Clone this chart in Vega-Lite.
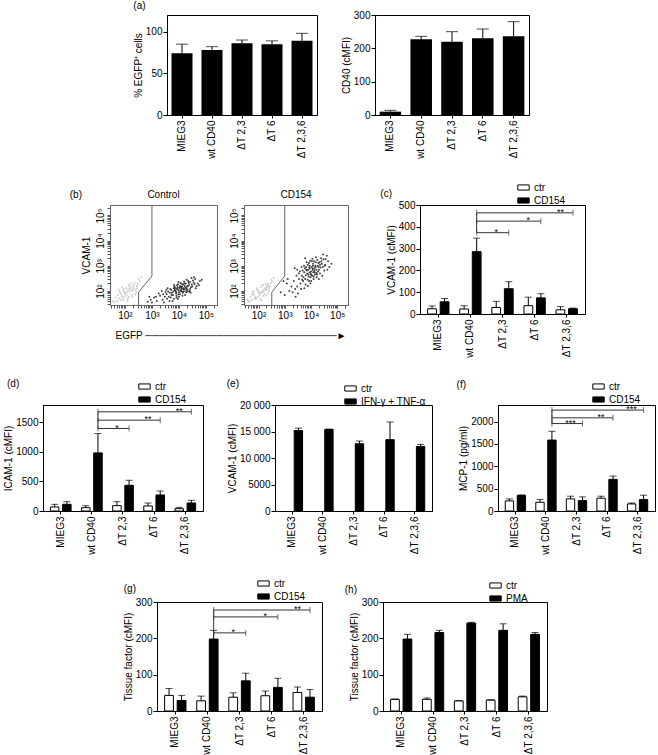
{
"$schema":"https://vega.github.io/schema/vega-lite/v6.json",
"padding":{"left":0,"top":0,"right":0,"bottom":0},
"config":{
 "font":"Liberation Sans",
 "view":{"stroke":"black","strokeWidth":1},
 "axis":{"labelFontSize":10,"titleFontSize":10,"titleFontWeight":"normal","labelColor":"black","titleColor":"black","domainColor":"black","tickColor":"black","tickSize":4,"labelPadding":2,"titlePadding":4,"grid":false,"labelOverlap":false},
 "axisX":{"tickSize":3},
 "axisY":{"labelPadding":1,"titlePadding":2},
 "title":{"fontSize":10,"fontWeight":"normal","color":"black"},
 "legend":{"labelFontSize":10,"labelColor":"black","symbolType":"M-1,-0.45H1V0.45H-1Z","symbolSize":130,"symbolStrokeColor":"black","symbolStrokeWidth":1,"padding":0,"rowPadding":1,"labelOffset":4}
},
"datasets":{
 "gate":[{"i":1,"x":1000,"y":257000},{"i":2,"x":1000,"y":398},{"i":3,"x":320,"y":89},{"i":4,"x":320,"y":28}],
 "flow":[
{"s":"Control","g":"out","x":100,"y":80},{"s":"Control","g":"out","x":150,"y":120},{"s":"Control","g":"out","x":80,"y":60},{"s":"Control","g":"out","x":200,"y":150},{"s":"Control","g":"out","x":60,"y":50},{"s":"Control","g":"out","x":120,"y":90},{"s":"Control","g":"out","x":250,"y":110},{"s":"Control","g":"out","x":90,"y":100},{"s":"Control","g":"out","x":180,"y":70},{"s":"Control","g":"out","x":70,"y":80},
{"s":"Control","g":"out","x":300,"y":200},{"s":"Control","g":"out","x":110,"y":130},{"s":"Control","g":"out","x":50,"y":40},{"s":"Control","g":"out","x":140,"y":60},{"s":"Control","g":"out","x":220,"y":180},{"s":"Control","g":"out","x":85,"y":45},{"s":"Control","g":"out","x":160,"y":140},{"s":"Control","g":"out","x":40,"y":35},{"s":"Control","g":"out","x":130,"y":110},{"s":"Control","g":"out","x":260,"y":90},
{"s":"Control","g":"out","x":75,"y":65},{"s":"Control","g":"out","x":350,"y":250},{"s":"Control","g":"out","x":95,"y":55},{"s":"Control","g":"out","x":190,"y":100},{"s":"Control","g":"out","x":65,"y":90},{"s":"Control","g":"out","x":280,"y":160},{"s":"Control","g":"out","x":105,"y":75},{"s":"Control","g":"out","x":45,"y":55},{"s":"Control","g":"out","x":170,"y":200},{"s":"Control","g":"out","x":125,"y":50},
{"s":"Control","g":"out","x":210,"y":130},{"s":"Control","g":"out","x":55,"y":70},{"s":"Control","g":"out","x":320,"y":300},{"s":"Control","g":"out","x":135,"y":160},{"s":"Control","g":"out","x":88,"y":120},{"s":"Control","g":"out","x":240,"y":75},{"s":"Control","g":"out","x":150,"y":95},{"s":"Control","g":"out","x":35,"y":40},{"s":"Control","g":"out","x":115,"y":65},{"s":"Control","g":"out","x":400,"y":350},
{"s":"Control","g":"out","x":180,"y":115},{"s":"Control","g":"out","x":70,"y":45},{"s":"Control","g":"out","x":230,"y":220},{"s":"Control","g":"out","x":98,"y":85},{"s":"Control","g":"out","x":145,"y":180},{"s":"Control","g":"out","x":60,"y":110},{"s":"Control","g":"out","x":270,"y":130},{"s":"Control","g":"out","x":125,"y":40},{"s":"Control","g":"out","x":190,"y":60},{"s":"Control","g":"out","x":80,"y":140},
{"s":"Control","g":"in","x":12000,"y":110},{"s":"Control","g":"in","x":8000,"y":90},{"s":"Control","g":"in","x":15000,"y":130},{"s":"Control","g":"in","x":9500,"y":75},{"s":"Control","g":"in","x":20000,"y":150},{"s":"Control","g":"in","x":6000,"y":70},{"s":"Control","g":"in","x":11000,"y":160},{"s":"Control","g":"in","x":7000,"y":120},{"s":"Control","g":"in","x":25000,"y":100},{"s":"Control","g":"in","x":5000,"y":55},
{"s":"Control","g":"in","x":14000,"y":85},{"s":"Control","g":"in","x":18000,"y":200},{"s":"Control","g":"in","x":3000,"y":60},{"s":"Control","g":"in","x":9000,"y":140},{"s":"Control","g":"in","x":30000,"y":180},{"s":"Control","g":"in","x":4000,"y":95},{"s":"Control","g":"in","x":10000,"y":60},{"s":"Control","g":"in","x":16000,"y":115},{"s":"Control","g":"in","x":22000,"y":250},{"s":"Control","g":"in","x":2500,"y":45},
{"s":"Control","g":"in","x":13000,"y":95},{"s":"Control","g":"in","x":8500,"y":170},{"s":"Control","g":"in","x":35000,"y":220},{"s":"Control","g":"in","x":6500,"y":50},{"s":"Control","g":"in","x":19000,"y":130},{"s":"Control","g":"in","x":1500,"y":40},{"s":"Control","g":"in","x":11500,"y":210},{"s":"Control","g":"in","x":5500,"y":85},{"s":"Control","g":"in","x":28000,"y":140},{"s":"Control","g":"in","x":7500,"y":100},
{"s":"Control","g":"in","x":40000,"y":300},{"s":"Control","g":"in","x":3500,"y":75},{"s":"Control","g":"in","x":17000,"y":70},{"s":"Control","g":"in","x":9800,"y":105},{"s":"Control","g":"in","x":24000,"y":175},{"s":"Control","g":"in","x":4500,"y":40},{"s":"Control","g":"in","x":12500,"y":130},{"s":"Control","g":"in","x":2000,"y":65},{"s":"Control","g":"in","x":45000,"y":160},{"s":"Control","g":"in","x":8200,"y":55},
{"s":"Control","g":"in","x":15500,"y":240},{"s":"Control","g":"in","x":6800,"y":150},{"s":"Control","g":"in","x":21000,"y":95},{"s":"Control","g":"in","x":1200,"y":55},{"s":"Control","g":"in","x":10500,"y":125},{"s":"Control","g":"in","x":33000,"y":260},{"s":"Control","g":"in","x":5200,"y":110},{"s":"Control","g":"in","x":14500,"y":180},{"s":"Control","g":"in","x":2800,"y":35},{"s":"Control","g":"in","x":26000,"y":120},
{"s":"Control","g":"in","x":7800,"y":80},{"s":"Control","g":"in","x":60000,"y":250},{"s":"Control","g":"in","x":3800,"y":130},{"s":"Control","g":"in","x":18500,"y":90},{"s":"Control","g":"in","x":11000,"y":75},{"s":"Control","g":"in","x":900,"y":45},{"s":"Control","g":"in","x":16500,"y":160},{"s":"Control","g":"in","x":6200,"y":95},{"s":"Control","g":"in","x":38000,"y":190},{"s":"Control","g":"in","x":9300,"y":185},
{"s":"Control","g":"in","x":4200,"y":60},{"s":"Control","g":"in","x":23000,"y":210},{"s":"Control","g":"in","x":13500,"y":65},{"s":"Control","g":"in","x":1800,"y":80},{"s":"Control","g":"in","x":29000,"y":330},{"s":"Control","g":"in","x":7200,"y":135},{"s":"Control","g":"in","x":50000,"y":200},{"s":"Control","g":"in","x":3200,"y":90},{"s":"Control","g":"in","x":12200,"y":145},{"s":"Control","g":"in","x":20500,"y":115},
{"s":"Control","g":"in","x":5800,"y":40},{"s":"Control","g":"in","x":8800,"y":115},{"s":"Control","g":"in","x":27000,"y":85},{"s":"Control","g":"in","x":2300,"y":100},{"s":"Control","g":"in","x":15000,"y":95},{"s":"Control","g":"in","x":42000,"y":130},{"s":"Control","g":"in","x":6600,"y":175},{"s":"Control","g":"in","x":10200,"y":90},{"s":"Control","g":"in","x":700,"y":38},{"s":"Control","g":"in","x":19500,"y":280},
{"s":"Control","g":"in","x":4800,"y":120},{"s":"Control","g":"in","x":31000,"y":150},{"s":"Control","g":"in","x":8100,"y":65},{"s":"Control","g":"in","x":14200,"y":120},{"s":"Control","g":"in","x":2600,"y":75},{"s":"Control","g":"in","x":36000,"y":350},{"s":"Control","g":"in","x":11800,"y":100},{"s":"Control","g":"in","x":5300,"y":70},{"s":"Control","g":"in","x":17500,"y":135},{"s":"Control","g":"in","x":9600,"y":230},
{"s":"Control","g":"in","x":1400,"y":60},{"s":"Control","g":"in","x":24500,"y":95},{"s":"Control","g":"in","x":7100,"y":105},{"s":"Control","g":"in","x":55000,"y":170},{"s":"Control","g":"in","x":3600,"y":50},{"s":"Control","g":"in","x":12800,"y":190},{"s":"Control","g":"in","x":21500,"y":160},{"s":"Control","g":"in","x":4600,"y":85},{"s":"Control","g":"in","x":9100,"y":48},{"s":"Control","g":"in","x":16000,"y":200},
{"s":"Control","g":"in","x":800,"y":60},{"s":"Control","g":"in","x":70000,"y":280},{"s":"Control","g":"in","x":6400,"y":130},{"s":"Control","g":"in","x":13200,"y":150},{"s":"Control","g":"in","x":1000,"y":35},{"s":"Control","g":"in","x":25500,"y":230},{"s":"Control","g":"in","x":10800,"y":140},{"s":"Control","g":"in","x":3400,"y":110},{"s":"Control","g":"in","x":18800,"y":105},{"s":"Control","g":"in","x":8400,"y":125},
{"s":"CD154","g":"out","x":110,"y":90},{"s":"CD154","g":"out","x":160,"y":110},{"s":"CD154","g":"out","x":75,"y":55},{"s":"CD154","g":"out","x":210,"y":160},{"s":"CD154","g":"out","x":55,"y":45},{"s":"CD154","g":"out","x":130,"y":85},{"s":"CD154","g":"out","x":240,"y":120},{"s":"CD154","g":"out","x":95,"y":105},{"s":"CD154","g":"out","x":170,"y":75},{"s":"CD154","g":"out","x":65,"y":70},
{"s":"CD154","g":"out","x":290,"y":210},{"s":"CD154","g":"out","x":120,"y":140},{"s":"CD154","g":"out","x":48,"y":38},{"s":"CD154","g":"out","x":150,"y":65},{"s":"CD154","g":"out","x":230,"y":170},{"s":"CD154","g":"out","x":82,"y":50},{"s":"CD154","g":"out","x":175,"y":130},{"s":"CD154","g":"out","x":42,"y":40},{"s":"CD154","g":"out","x":135,"y":100},{"s":"CD154","g":"out","x":250,"y":95},
{"s":"CD154","g":"out","x":78,"y":60},{"s":"CD154","g":"out","x":330,"y":240},{"s":"CD154","g":"out","x":100,"y":60},{"s":"CD154","g":"out","x":200,"y":110},{"s":"CD154","g":"out","x":62,"y":85},{"s":"CD154","g":"out","x":270,"y":150},{"s":"CD154","g":"out","x":108,"y":80},{"s":"CD154","g":"out","x":50,"y":60},{"s":"CD154","g":"out","x":185,"y":190},{"s":"CD154","g":"out","x":118,"y":48},
{"s":"CD154","g":"out","x":205,"y":140},{"s":"CD154","g":"out","x":58,"y":75},{"s":"CD154","g":"out","x":310,"y":280},{"s":"CD154","g":"out","x":140,"y":170},{"s":"CD154","g":"out","x":90,"y":115},{"s":"CD154","g":"out","x":235,"y":80},{"s":"CD154","g":"out","x":155,"y":90},{"s":"CD154","g":"out","x":38,"y":45},{"s":"CD154","g":"out","x":112,"y":70},{"s":"CD154","g":"out","x":380,"y":330},
{"s":"CD154","g":"out","x":190,"y":120},{"s":"CD154","g":"out","x":72,"y":50},{"s":"CD154","g":"out","x":220,"y":200},{"s":"CD154","g":"out","x":102,"y":88},{"s":"CD154","g":"out","x":148,"y":175},{"s":"CD154","g":"out","x":64,"y":100},{"s":"CD154","g":"out","x":260,"y":140},{"s":"CD154","g":"out","x":128,"y":42},{"s":"CD154","g":"out","x":195,"y":65},{"s":"CD154","g":"out","x":85,"y":130},
{"s":"CD154","g":"in","x":10000,"y":600},{"s":"CD154","g":"in","x":8000,"y":450},{"s":"CD154","g":"in","x":15000,"y":900},{"s":"CD154","g":"in","x":6000,"y":300},{"s":"CD154","g":"in","x":12000,"y":1200},{"s":"CD154","g":"in","x":20000,"y":700},{"s":"CD154","g":"in","x":5000,"y":250},{"s":"CD154","g":"in","x":9000,"y":800},{"s":"CD154","g":"in","x":25000,"y":1500},{"s":"CD154","g":"in","x":4000,"y":200},
{"s":"CD154","g":"in","x":11000,"y":400},{"s":"CD154","g":"in","x":7000,"y":650},{"s":"CD154","g":"in","x":18000,"y":1000},{"s":"CD154","g":"in","x":3000,"y":150},{"s":"CD154","g":"in","x":14000,"y":550},{"s":"CD154","g":"in","x":30000,"y":1800},{"s":"CD154","g":"in","x":6500,"y":900},{"s":"CD154","g":"in","x":9500,"y":350},{"s":"CD154","g":"in","x":22000,"y":500},{"s":"CD154","g":"in","x":2500,"y":120},
{"s":"CD154","g":"in","x":13000,"y":1500},{"s":"CD154","g":"in","x":8500,"y":250},{"s":"CD154","g":"in","x":16000,"y":700},{"s":"CD154","g":"in","x":4500,"y":400},{"s":"CD154","g":"in","x":35000,"y":1100},{"s":"CD154","g":"in","x":7500,"y":1100},{"s":"CD154","g":"in","x":10500,"y":900},{"s":"CD154","g":"in","x":2000,"y":90},{"s":"CD154","g":"in","x":19000,"y":1300},{"s":"CD154","g":"in","x":5500,"y":550},
{"s":"CD154","g":"in","x":12500,"y":300},{"s":"CD154","g":"in","x":40000,"y":2500},{"s":"CD154","g":"in","x":3500,"y":300},{"s":"CD154","g":"in","x":9200,"y":1600},{"s":"CD154","g":"in","x":17000,"y":450},{"s":"CD154","g":"in","x":6200,"y":180},{"s":"CD154","g":"in","x":28000,"y":900},{"s":"CD154","g":"in","x":1500,"y":100},{"s":"CD154","g":"in","x":11500,"y":700},{"s":"CD154","g":"in","x":8200,"y":380},
{"s":"CD154","g":"in","x":24000,"y":2000},{"s":"CD154","g":"in","x":4800,"y":650},{"s":"CD154","g":"in","x":14500,"y":1000},{"s":"CD154","g":"in","x":3200,"y":80},{"s":"CD154","g":"in","x":7200,"y":500},{"s":"CD154","g":"in","x":21000,"y":1400},{"s":"CD154","g":"in","x":1200,"y":200},{"s":"CD154","g":"in","x":10200,"y":250},{"s":"CD154","g":"in","x":32000,"y":650},{"s":"CD154","g":"in","x":5800,"y":800},
{"s":"CD154","g":"in","x":15500,"y":2200},{"s":"CD154","g":"in","x":2800,"y":400},{"s":"CD154","g":"in","x":9800,"y":480},{"s":"CD154","g":"in","x":45000,"y":1500},{"s":"CD154","g":"in","x":6800,"y":1400},{"s":"CD154","g":"in","x":13500,"y":800},{"s":"CD154","g":"in","x":2200,"y":250},{"s":"CD154","g":"in","x":18500,"y":600},{"s":"CD154","g":"in","x":8800,"y":1000},{"s":"CD154","g":"in","x":4200,"y":120},
{"s":"CD154","g":"in","x":26000,"y":1200},{"s":"CD154","g":"in","x":11200,"y":1900},{"s":"CD154","g":"in","x":5200,"y":350},{"s":"CD154","g":"in","x":50000,"y":900},{"s":"CD154","g":"in","x":7800,"y":700},{"s":"CD154","g":"in","x":16500,"y":350},{"s":"CD154","g":"in","x":1800,"y":150},{"s":"CD154","g":"in","x":12200,"y":550},{"s":"CD154","g":"in","x":3800,"y":600},{"s":"CD154","g":"in","x":23000,"y":850},
{"s":"CD154","g":"in","x":9400,"y":200},{"s":"CD154","g":"in","x":6400,"y":420},{"s":"CD154","g":"in","x":29000,"y":2800},{"s":"CD154","g":"in","x":1000,"y":70},{"s":"CD154","g":"in","x":14200,"y":450},{"s":"CD154","g":"in","x":8400,"y":1300},{"s":"CD154","g":"in","x":20000,"y":300},{"s":"CD154","g":"in","x":4400,"y":900},{"s":"CD154","g":"in","x":11800,"y":1000},{"s":"CD154","g":"in","x":2600,"y":60},
{"s":"CD154","g":"in","x":36000,"y":1800},{"s":"CD154","g":"in","x":7400,"y":280},{"s":"CD154","g":"in","x":10800,"y":1500},{"s":"CD154","g":"in","x":3400,"y":500},{"s":"CD154","g":"in","x":17500,"y":1700},{"s":"CD154","g":"in","x":5600,"y":130},{"s":"CD154","g":"in","x":13200,"y":650},{"s":"CD154","g":"in","x":60000,"y":1200},{"s":"CD154","g":"in","x":2400,"y":800},{"s":"CD154","g":"in","x":9000,"y":550},
{"s":"CD154","g":"in","x":27000,"y":400},{"s":"CD154","g":"in","x":6600,"y":700},{"s":"CD154","g":"in","x":15200,"y":1400},{"s":"CD154","g":"in","x":1300,"y":300},{"s":"CD154","g":"in","x":8600,"y":850},{"s":"CD154","g":"in","x":42000,"y":700},{"s":"CD154","g":"in","x":4600,"y":280},{"s":"CD154","g":"in","x":12800,"y":380},{"s":"CD154","g":"in","x":700,"y":90},{"s":"CD154","g":"in","x":19500,"y":900},
{"s":"CD154","g":"in","x":5400,"y":1000},{"s":"CD154","g":"in","x":22000,"y":1100},{"s":"CD154","g":"in","x":3000,"y":700},{"s":"CD154","g":"in","x":10400,"y":430},{"s":"CD154","g":"in","x":33000,"y":1000},{"s":"CD154","g":"in","x":7600,"y":160},{"s":"CD154","g":"in","x":16200,"y":520},{"s":"CD154","g":"in","x":900,"y":250},{"s":"CD154","g":"in","x":11600,"y":780},{"s":"CD154","g":"in","x":6000,"y":2000}
 ]
},
"spacing":21,
"resolve":{"scale":{"fill":"independent","xOffset":"independent","color":"independent"},"legend":{"fill":"independent","color":"independent"}},
"vconcat":[
 {"bounds":"flush","spacing":58,"resolve":{"scale":{"fill":"independent","xOffset":"independent","color":"independent"},"legend":{"fill":"independent","color":"independent"}},"hconcat":[
  {"width":109,"height":100,"view":{"stroke":null,"fill":"#ffffff"},"data":{"values":[]},"mark":"point"},
  {"width":150,"height":100,
   "title":{"text":"(a)","anchor":"start","frame":"bounds","offset":4},
   "data":{"values":[{"cat":"MIEG3","v":74,"hi":85},{"cat":"wt CD40","v":78,"hi":82},{"cat":"ΔT 2,3","v":86,"hi":90},{"cat":"ΔT 6","v":85,"hi":89},{"cat":"ΔT 2,3,6","v":89,"hi":98}]},
   "layer":[
    {"mark":{"type":"bar","color":"black"},"encoding":{"x":{"field":"cat","type":"nominal","sort":null,"scale":{"domain":["MIEG3","wt CD40","ΔT 2,3","ΔT 6","ΔT 2,3,6"],"paddingInner":0.3,"paddingOuter":0.15},"axis":{"title":null,"labelAngle":-90}},"y":{"field":"v","type":"quantitative","scale":{"domain":[0,120],"nice":false},"axis":{"title":"% EGFP⁺ cells","values":[0,50,100],"tickCount":50,"format":"d"}}}},
    {"mark":{"type":"rule","color":"black"},"encoding":{"x":{"field":"cat","type":"nominal"},"y":{"field":"v","type":"quantitative"},"y2":{"field":"hi"}}},
    {"mark":{"type":"tick","color":"black","size":12,"thickness":1},"encoding":{"x":{"field":"cat","type":"nominal"},"y":{"field":"hi","type":"quantitative"}}}
   ]},
  {"width":154,"height":100,
   "data":{"values":[{"cat":"MIEG3","v":10,"hi":14},{"cat":"wt CD40","v":227,"hi":236},{"cat":"ΔT 2,3","v":220,"hi":250},{"cat":"ΔT 6","v":230,"hi":258},{"cat":"ΔT 2,3,6","v":236,"hi":280}]},
   "layer":[
    {"mark":{"type":"bar","color":"black"},"encoding":{"x":{"field":"cat","type":"nominal","sort":null,"scale":{"domain":["MIEG3","wt CD40","ΔT 2,3","ΔT 6","ΔT 2,3,6"],"paddingInner":0.3,"paddingOuter":0.15},"axis":{"title":null,"labelAngle":-90}},"y":{"field":"v","type":"quantitative","scale":{"domain":[0,300],"nice":false},"axis":{"title":"CD40 (cMFI)","values":[0,100,200,300],"tickCount":50,"format":"d"}}}},
    {"mark":{"type":"rule","color":"black"},"encoding":{"x":{"field":"cat","type":"nominal"},"y":{"field":"v","type":"quantitative"},"y2":{"field":"hi"}}},
    {"mark":{"type":"tick","color":"black","size":12,"thickness":1},"encoding":{"x":{"field":"cat","type":"nominal"},"y":{"field":"hi","type":"quantitative"}}}
   ]}
 ]},
 {"bounds":"flush","spacing":27,"resolve":{"scale":{"fill":"independent","xOffset":"independent","color":"independent"},"legend":{"fill":"independent","color":"independent"}},"hconcat":[
  {"width":83,"height":100,"view":{"stroke":null,"fill":"#ffffff"},"data":{"values":[]},"mark":"point","title":{"text":"(b)","anchor":"end","offset":5,"dx":-1}},
  {"width":107,"height":100,"view":{"stroke":"#666"},
   "title":{"text":"Control","anchor":"middle","offset":5},
   "layer":[
    {"data":{"name":"flow"},"transform":[{"filter":"datum.s == 'Control'"}],"mark":{"type":"circle","size":4,"opacity":0.85},
     "encoding":{
      "x":{"field":"x","type":"quantitative","scale":{"type":"log","domain":[28,257000],"nice":false},"axis":{"title":"EGFP    ───────────────────────────►","titleAnchor":"start","titleAlign":"left","titleX":5,"titleY":30,"titleBaseline":"middle","tickCount":50,"values":[30,40,50,60,70,80,90,100,200,300,400,500,600,700,800,900,1000,2000,3000,4000,5000,6000,7000,8000,9000,10000,20000,30000,40000,50000,60000,70000,80000,90000,100000,200000],"labelExpr":"datum.value == 100 ? '10²' : datum.value == 1000 ? '10³' : datum.value == 10000 ? '10⁴' : datum.value == 100000 ? '10⁵' : ''","labelFlush":false,"domainColor":"#666","tickColor":"#555"}},
      "y":{"field":"y","type":"quantitative","scale":{"type":"log","domain":[28,257000],"nice":false},"axis":{"title":"VCAM-1","titlePadding":4,"labelPadding":2,"labelAngle":-90,"tickSize":3,"tickCount":50,"values":[30,40,50,60,70,80,90,100,200,300,400,500,600,700,800,900,1000,2000,3000,4000,5000,6000,7000,8000,9000,10000,20000,30000,40000,50000,60000,70000,80000,90000,100000,200000],"labelExpr":"datum.value == 100 ? '10²' : datum.value == 1000 ? '10³' : datum.value == 10000 ? '10⁴' : datum.value == 100000 ? '10⁵' : ''","labelFlush":false,"domainColor":"#666","tickColor":"#555"}},
      "color":{"field":"g","type":"nominal","scale":{"domain":["out","in"],"range":["#c4c4c4","#222222"]},"legend":null}
     }},
    {"data":{"name":"gate"},"mark":{"type":"line","color":"#666","strokeWidth":1,"clip":true},"encoding":{"x":{"field":"x","type":"quantitative"},"y":{"field":"y","type":"quantitative"},"order":{"field":"i"}}}
   ]},
  {"width":104,"height":100,"view":{"stroke":"#666"},
   "title":{"text":"CD154","anchor":"middle","offset":5},
   "layer":[
    {"data":{"name":"flow"},"transform":[{"filter":"datum.s == 'CD154'"}],"mark":{"type":"circle","size":4,"opacity":0.85},
     "encoding":{
      "x":{"field":"x","type":"quantitative","scale":{"type":"log","domain":[28,257000],"nice":false},"axis":{"title":null,"tickCount":50,"values":[30,40,50,60,70,80,90,100,200,300,400,500,600,700,800,900,1000,2000,3000,4000,5000,6000,7000,8000,9000,10000,20000,30000,40000,50000,60000,70000,80000,90000,100000,200000],"labelExpr":"datum.value == 100 ? '10²' : datum.value == 1000 ? '10³' : datum.value == 10000 ? '10⁴' : datum.value == 100000 ? '10⁵' : ''","labelFlush":false,"domainColor":"#666","tickColor":"#555"}},
      "y":{"field":"y","type":"quantitative","scale":{"type":"log","domain":[28,257000],"nice":false},"axis":{"title":null,"labelPadding":2,"labelAngle":-90,"tickSize":3,"tickCount":50,"values":[30,40,50,60,70,80,90,100,200,300,400,500,600,700,800,900,1000,2000,3000,4000,5000,6000,7000,8000,9000,10000,20000,30000,40000,50000,60000,70000,80000,90000,100000,200000],"labelExpr":"datum.value == 100 ? '10²' : datum.value == 1000 ? '10³' : datum.value == 10000 ? '10⁴' : datum.value == 100000 ? '10⁵' : ''","labelFlush":false,"domainColor":"#666","tickColor":"#555"}},
      "color":{"field":"g","type":"nominal","scale":{"domain":["out","in"],"range":["#c4c4c4","#222222"]},"legend":null}
     }},
    {"data":{"name":"gate"},"mark":{"type":"line","color":"#666","strokeWidth":1,"clip":true},"encoding":{"x":{"field":"x","type":"quantitative"},"y":{"field":"y","type":"quantitative"},"order":{"field":"i"}}}
   ]},
  {"width":18,"height":109,"view":{"stroke":null,"fill":"#ffffff"},"data":{"values":[]},"mark":"point","title":{"text":"(c)","anchor":"end","offset":6,"dx":-1}},
  {"width":165,"height":109,
   "data":{"values":[
    {"cat":"MIEG3","grp":"ctr","v":24,"hi":37},{"cat":"MIEG3","grp":"CD154","v":56,"hi":71},
    {"cat":"wt CD40","grp":"ctr","v":23,"hi":38},{"cat":"wt CD40","grp":"CD154","v":286,"hi":348},
    {"cat":"ΔT 2,3","grp":"ctr","v":30,"hi":58},{"cat":"ΔT 2,3","grp":"CD154","v":116,"hi":148},
    {"cat":"ΔT 6","grp":"ctr","v":38,"hi":77},{"cat":"ΔT 6","grp":"CD154","v":74,"hi":93},
    {"cat":"ΔT 2,3,6","grp":"ctr","v":19,"hi":34},{"cat":"ΔT 2,3,6","grp":"CD154","v":24,"hi":27}]},
   "layer":[
    {"mark":{"type":"bar","stroke":"black","strokeWidth":1},"encoding":{
      "x":{"field":"cat","type":"nominal","sort":null,"scale":{"domain":["MIEG3","wt CD40","ΔT 2,3","ΔT 6","ΔT 2,3,6"],"paddingInner":0.1,"paddingOuter":0.12},"axis":{"title":null,"labelAngle":-90}},
      "xOffset":{"field":"grp","type":"nominal","scale":{"domain":["ctr","CD154"],"paddingInner":0.3,"paddingOuter":0.3}},
      "y":{"field":"v","type":"quantitative","scale":{"domain":[0,500],"nice":false},"axis":{"title":"VCAM-1 (cMFI)","values":[0,100,200,300,400,500],"tickCount":50,"format":"d"}},
      "fill":{"field":"grp","type":"nominal","scale":{"domain":["ctr","CD154"],"range":["white","black"]},"legend":{"orient":"none","legendX":97,"legendY":-24,"title":null}}}},
    {"mark":{"type":"rule","color":"black"},"encoding":{"x":{"field":"cat","type":"nominal"},"xOffset":{"field":"grp","type":"nominal"},"y":{"field":"v","type":"quantitative"},"y2":{"field":"hi"}}},
    {"mark":{"type":"tick","color":"black","size":7,"thickness":1},"encoding":{"x":{"field":"cat","type":"nominal"},"xOffset":{"field":"grp","type":"nominal"},"y":{"field":"hi","type":"quantitative"}}},
    {"data":{"values":[{"b":1,"cat":"wt CD40","grp":"CD154","y":373,"star":""},{"b":1,"cat":"ΔT 2,3","grp":"CD154","y":373,"star":"*"},{"b":2,"cat":"wt CD40","grp":"CD154","y":426,"star":""},{"b":2,"cat":"ΔT 6","grp":"CD154","y":426,"star":"*"},{"b":3,"cat":"wt CD40","grp":"CD154","y":464,"star":""},{"b":3,"cat":"ΔT 2,3,6","grp":"CD154","y":464,"star":"**"}]},
     "layer":[
      {"mark":{"type":"line","color":"#333","strokeWidth":1},"encoding":{"x":{"field":"cat","type":"nominal"},"xOffset":{"field":"grp","type":"nominal"},"y":{"field":"y","type":"quantitative"},"detail":{"field":"b"}}},
      {"mark":{"type":"tick","orient":"vertical","color":"#333","size":6,"thickness":1},"encoding":{"x":{"field":"cat","type":"nominal"},"xOffset":{"field":"grp","type":"nominal"},"y":{"field":"y","type":"quantitative"}}},
      {"transform":[{"filter":"datum.cat == 'wt CD40'"}],"mark":{"type":"rule","color":"#333"},"encoding":{"x":{"field":"cat","type":"nominal"},"xOffset":{"field":"grp","type":"nominal"},"y":{"aggregate":"min","field":"y","type":"quantitative"},"y2":{"aggregate":"max","field":"y"}}},
      {"transform":[{"filter":"datum.star != ''"}],"mark":{"type":"text","fontSize":9,"baseline":"alphabetic","dy":2},"encoding":{"x":{"field":"cat","type":"nominal"},"xOffset":{"datum":"ctr"},"y":{"field":"y","type":"quantitative"},"text":{"field":"star"}}}
     ]}
   ]}
 ]},
 {"bounds":"flush","spacing":30,"resolve":{"scale":{"fill":"independent","xOffset":"independent","color":"independent"},"legend":{"fill":"independent","color":"independent"}},"hconcat":[
  {"width":13,"height":106,"view":{"stroke":null,"fill":"#ffffff"},"data":{"values":[]},"mark":"point","title":{"text":"(d)","anchor":"start","offset":16,"dx":7}},
  {"width":160,"height":106,
   "data":{"values":[
    {"cat":"MIEG3","grp":"ctr","v":68,"hi":113},{"cat":"MIEG3","grp":"CD154","v":113,"hi":158},
    {"cat":"wt CD40","grp":"ctr","v":56,"hi":90},{"cat":"wt CD40","grp":"CD154","v":981,"hi":1308},
    {"cat":"ΔT 2,3","grp":"ctr","v":90,"hi":158},{"cat":"ΔT 2,3","grp":"CD154","v":434,"hi":519},
    {"cat":"ΔT 6","grp":"ctr","v":85,"hi":135},{"cat":"ΔT 6","grp":"CD154","v":271,"hi":338},
    {"cat":"ΔT 2,3,6","grp":"ctr","v":39,"hi":62},{"cat":"ΔT 2,3,6","grp":"CD154","v":135,"hi":180}]},
   "layer":[
    {"mark":{"type":"bar","stroke":"black","strokeWidth":1},"encoding":{
      "x":{"field":"cat","type":"nominal","sort":null,"scale":{"domain":["MIEG3","wt CD40","ΔT 2,3","ΔT 6","ΔT 2,3,6"],"paddingInner":0.1,"paddingOuter":0.12},"axis":{"title":null,"labelAngle":-90}},
      "xOffset":{"field":"grp","type":"nominal","scale":{"domain":["ctr","CD154"],"paddingInner":0.3,"paddingOuter":0.3}},
      "y":{"field":"v","type":"quantitative","scale":{"domain":[0,1790],"nice":false},"axis":{"title":"ICAM-1 (cMFI)","values":[0,500,1000,1500],"tickCount":50,"format":"d"}},
      "fill":{"field":"grp","type":"nominal","scale":{"domain":["ctr","CD154"],"range":["white","black"]},"legend":{"orient":"none","legendX":95,"legendY":-25,"title":null}}}},
    {"mark":{"type":"rule","color":"black"},"encoding":{"x":{"field":"cat","type":"nominal"},"xOffset":{"field":"grp","type":"nominal"},"y":{"field":"v","type":"quantitative"},"y2":{"field":"hi"}}},
    {"mark":{"type":"tick","color":"black","size":7,"thickness":1},"encoding":{"x":{"field":"cat","type":"nominal"},"xOffset":{"field":"grp","type":"nominal"},"y":{"field":"hi","type":"quantitative"}}},
    {"data":{"values":[{"b":1,"cat":"wt CD40","grp":"CD154","y":1393,"star":""},{"b":1,"cat":"ΔT 2,3","grp":"CD154","y":1393,"star":"*"},{"b":2,"cat":"wt CD40","grp":"CD154","y":1534,"star":""},{"b":2,"cat":"ΔT 6","grp":"CD154","y":1534,"star":"**"},{"b":3,"cat":"wt CD40","grp":"CD154","y":1675,"star":""},{"b":3,"cat":"ΔT 2,3,6","grp":"CD154","y":1675,"star":"**"}]},
     "layer":[
      {"mark":{"type":"line","color":"#333","strokeWidth":1},"encoding":{"x":{"field":"cat","type":"nominal"},"xOffset":{"field":"grp","type":"nominal"},"y":{"field":"y","type":"quantitative"},"detail":{"field":"b"}}},
      {"mark":{"type":"tick","orient":"vertical","color":"#333","size":6,"thickness":1},"encoding":{"x":{"field":"cat","type":"nominal"},"xOffset":{"field":"grp","type":"nominal"},"y":{"field":"y","type":"quantitative"}}},
      {"transform":[{"filter":"datum.cat == 'wt CD40'"}],"mark":{"type":"rule","color":"#333"},"encoding":{"x":{"field":"cat","type":"nominal"},"xOffset":{"field":"grp","type":"nominal"},"y":{"aggregate":"min","field":"y","type":"quantitative"},"y2":{"aggregate":"max","field":"y"}}},
      {"transform":[{"filter":"datum.star != ''"}],"mark":{"type":"text","fontSize":9,"baseline":"alphabetic","dy":2},"encoding":{"x":{"field":"cat","type":"nominal"},"xOffset":{"datum":"ctr"},"y":{"field":"y","type":"quantitative"},"text":{"field":"star"}}}
     ]}
   ]},
  {"width":12,"height":106,"view":{"stroke":null,"fill":"#ffffff"},"data":{"values":[]},"mark":"point","title":{"text":"(e)","anchor":"end","offset":16,"dx":-6}},
  {"width":157,"height":106,
   "data":{"values":[
    {"cat":"MIEG3","grp":"IFN-γ + TNF-α","v":15190,"hi":15640},
    {"cat":"wt CD40","grp":"IFN-γ + TNF-α","v":15390,"hi":15450},
    {"cat":"ΔT 2,3","grp":"IFN-γ + TNF-α","v":12690,"hi":13200},
    {"cat":"ΔT 6","grp":"IFN-γ + TNF-α","v":13460,"hi":16800},
    {"cat":"ΔT 2,3,6","grp":"IFN-γ + TNF-α","v":12180,"hi":12560}]},
   "layer":[
    {"mark":{"type":"bar","stroke":"black","strokeWidth":1},"encoding":{
      "x":{"field":"cat","type":"nominal","sort":null,"scale":{"domain":["MIEG3","wt CD40","ΔT 2,3","ΔT 6","ΔT 2,3,6"],"paddingInner":0.1,"paddingOuter":0.12},"axis":{"title":null,"labelAngle":-90}},
      "xOffset":{"field":"grp","type":"nominal","scale":{"domain":["ctr","IFN-γ + TNF-α"],"paddingInner":0.3,"paddingOuter":0.3}},
      "y":{"field":"v","type":"quantitative","scale":{"domain":[0,20000],"nice":false},"axis":{"title":"VCAM-1 (cMFI)","values":[0,5000,10000,15000,20000],"tickCount":50,"labelExpr":"datum.value >= 10000 ? replace(format(datum.value, ','), ',', ' ') : format(datum.value, 'd')"}},
      "fill":{"field":"grp","type":"nominal","scale":{"domain":["ctr","IFN-γ + TNF-α"],"range":["white","black"]},"legend":{"orient":"none","legendX":69,"legendY":-23,"title":null}}}},
    {"mark":{"type":"rule","color":"black"},"encoding":{"x":{"field":"cat","type":"nominal"},"xOffset":{"field":"grp","type":"nominal"},"y":{"field":"v","type":"quantitative"},"y2":{"field":"hi"}}},
    {"mark":{"type":"tick","color":"black","size":7,"thickness":1},"encoding":{"x":{"field":"cat","type":"nominal"},"xOffset":{"field":"grp","type":"nominal"},"y":{"field":"hi","type":"quantitative"}}}
   ]},
  {"width":6,"height":106,"view":{"stroke":null,"fill":"#ffffff"},"data":{"values":[]},"mark":"point","title":{"text":"(f)","anchor":"end","offset":15,"dx":-2}},
  {"width":157,"height":106,
   "data":{"values":[
    {"cat":"MIEG3","grp":"ctr","v":226,"hi":271},{"cat":"MIEG3","grp":"CD154","v":346,"hi":361},
    {"cat":"wt CD40","grp":"ctr","v":195,"hi":256},{"cat":"wt CD40","grp":"CD154","v":1586,"hi":1782},
    {"cat":"ΔT 2,3","grp":"ctr","v":271,"hi":331},{"cat":"ΔT 2,3","grp":"CD154","v":233,"hi":316},
    {"cat":"ΔT 6","grp":"ctr","v":286,"hi":331},{"cat":"ΔT 6","grp":"CD154","v":707,"hi":782},
    {"cat":"ΔT 2,3,6","grp":"ctr","v":158,"hi":180},{"cat":"ΔT 2,3,6","grp":"CD154","v":256,"hi":353}]},
   "layer":[
    {"mark":{"type":"bar","stroke":"black","strokeWidth":1},"encoding":{
      "x":{"field":"cat","type":"nominal","sort":null,"scale":{"domain":["MIEG3","wt CD40","ΔT 2,3","ΔT 6","ΔT 2,3,6"],"paddingInner":0.1,"paddingOuter":0.12},"axis":{"title":null,"labelAngle":-90}},
      "xOffset":{"field":"grp","type":"nominal","scale":{"domain":["ctr","CD154"],"paddingInner":0.3,"paddingOuter":0.3}},
      "y":{"field":"v","type":"quantitative","scale":{"domain":[0,2370],"nice":false},"axis":{"title":"MCP-1 (pg/ml)","values":[0,500,1000,1500,2000],"tickCount":50,"format":"d"}},
      "fill":{"field":"grp","type":"nominal","scale":{"domain":["ctr","CD154"],"range":["white","black"]},"legend":{"orient":"none","legendX":94,"legendY":-25,"title":null}}}},
    {"mark":{"type":"rule","color":"black"},"encoding":{"x":{"field":"cat","type":"nominal"},"xOffset":{"field":"grp","type":"nominal"},"y":{"field":"v","type":"quantitative"},"y2":{"field":"hi"}}},
    {"mark":{"type":"tick","color":"black","size":7,"thickness":1},"encoding":{"x":{"field":"cat","type":"nominal"},"xOffset":{"field":"grp","type":"nominal"},"y":{"field":"hi","type":"quantitative"}}},
    {"data":{"values":[{"b":1,"cat":"wt CD40","grp":"CD154","y":1955,"star":""},{"b":1,"cat":"ΔT 2,3","grp":"CD154","y":1955,"star":"***"},{"b":2,"cat":"wt CD40","grp":"CD154","y":2083,"star":""},{"b":2,"cat":"ΔT 6","grp":"CD154","y":2083,"star":"**"},{"b":3,"cat":"wt CD40","grp":"CD154","y":2256,"star":""},{"b":3,"cat":"ΔT 2,3,6","grp":"CD154","y":2256,"star":"***"}]},
     "layer":[
      {"mark":{"type":"line","color":"#333","strokeWidth":1},"encoding":{"x":{"field":"cat","type":"nominal"},"xOffset":{"field":"grp","type":"nominal"},"y":{"field":"y","type":"quantitative"},"detail":{"field":"b"}}},
      {"mark":{"type":"tick","orient":"vertical","color":"#333","size":6,"thickness":1},"encoding":{"x":{"field":"cat","type":"nominal"},"xOffset":{"field":"grp","type":"nominal"},"y":{"field":"y","type":"quantitative"}}},
      {"transform":[{"filter":"datum.cat == 'wt CD40'"}],"mark":{"type":"rule","color":"#333"},"encoding":{"x":{"field":"cat","type":"nominal"},"xOffset":{"field":"grp","type":"nominal"},"y":{"aggregate":"min","field":"y","type":"quantitative"},"y2":{"aggregate":"max","field":"y"}}},
      {"transform":[{"filter":"datum.star != ''"}],"mark":{"type":"text","fontSize":9,"baseline":"alphabetic","dy":2},"encoding":{"x":{"field":"cat","type":"nominal"},"xOffset":{"datum":"ctr"},"y":{"field":"y","type":"quantitative"},"text":{"field":"star"}}}
     ]}
   ]}
 ]},
 {"bounds":"flush","spacing":27,"resolve":{"scale":{"fill":"independent","xOffset":"independent","color":"independent"},"legend":{"fill":"independent","color":"independent"}},"hconcat":[
  {"width":130,"height":109,"view":{"stroke":null,"fill":"#ffffff"},"data":{"values":[]},"mark":"point","title":{"text":"(g)","anchor":"end","offset":8,"dx":6}},
  {"width":165,"height":109,
   "data":{"values":[
    {"cat":"MIEG3","grp":"ctr","v":43,"hi":62},{"cat":"MIEG3","grp":"CD154","v":29,"hi":43},
    {"cat":"wt CD40","grp":"ctr","v":28,"hi":41},{"cat":"wt CD40","grp":"CD154","v":198,"hi":222},
    {"cat":"ΔT 2,3","grp":"ctr","v":38,"hi":50},{"cat":"ΔT 2,3","grp":"CD154","v":83,"hi":104},
    {"cat":"ΔT 6","grp":"ctr","v":42,"hi":55},{"cat":"ΔT 6","grp":"CD154","v":65,"hi":90},
    {"cat":"ΔT 2,3,6","grp":"ctr","v":51,"hi":66},{"cat":"ΔT 2,3,6","grp":"CD154","v":38,"hi":59}]},
   "layer":[
    {"mark":{"type":"bar","stroke":"black","strokeWidth":1},"encoding":{
      "x":{"field":"cat","type":"nominal","sort":null,"scale":{"domain":["MIEG3","wt CD40","ΔT 2,3","ΔT 6","ΔT 2,3,6"],"paddingInner":0.1,"paddingOuter":0.12},"axis":{"title":null,"labelAngle":-90}},
      "xOffset":{"field":"grp","type":"nominal","scale":{"domain":["ctr","CD154"],"paddingInner":0.3,"paddingOuter":0.3}},
      "y":{"field":"v","type":"quantitative","scale":{"domain":[0,300],"nice":false},"axis":{"title":"Tissue factor (cMFI)","values":[0,100,200,300],"tickCount":50,"format":"d"}},
      "fill":{"field":"grp","type":"nominal","scale":{"domain":["ctr","CD154"],"range":["white","black"]},"legend":{"orient":"none","legendX":100,"legendY":-25,"title":null}}}},
    {"mark":{"type":"rule","color":"black"},"encoding":{"x":{"field":"cat","type":"nominal"},"xOffset":{"field":"grp","type":"nominal"},"y":{"field":"v","type":"quantitative"},"y2":{"field":"hi"}}},
    {"mark":{"type":"tick","color":"black","size":7,"thickness":1},"encoding":{"x":{"field":"cat","type":"nominal"},"xOffset":{"field":"grp","type":"nominal"},"y":{"field":"hi","type":"quantitative"}}},
    {"data":{"values":[{"b":1,"cat":"wt CD40","grp":"CD154","y":215,"star":""},{"b":1,"cat":"ΔT 2,3","grp":"CD154","y":215,"star":"*"},{"b":2,"cat":"wt CD40","grp":"CD154","y":259,"star":""},{"b":2,"cat":"ΔT 6","grp":"CD154","y":259,"star":"*"},{"b":3,"cat":"wt CD40","grp":"CD154","y":278,"star":""},{"b":3,"cat":"ΔT 2,3,6","grp":"CD154","y":278,"star":"**"}]},
     "layer":[
      {"mark":{"type":"line","color":"#333","strokeWidth":1},"encoding":{"x":{"field":"cat","type":"nominal"},"xOffset":{"field":"grp","type":"nominal"},"y":{"field":"y","type":"quantitative"},"detail":{"field":"b"}}},
      {"mark":{"type":"tick","orient":"vertical","color":"#333","size":6,"thickness":1},"encoding":{"x":{"field":"cat","type":"nominal"},"xOffset":{"field":"grp","type":"nominal"},"y":{"field":"y","type":"quantitative"}}},
      {"transform":[{"filter":"datum.cat == 'wt CD40'"}],"mark":{"type":"rule","color":"#333"},"encoding":{"x":{"field":"cat","type":"nominal"},"xOffset":{"field":"grp","type":"nominal"},"y":{"aggregate":"min","field":"y","type":"quantitative"},"y2":{"aggregate":"max","field":"y"}}},
      {"transform":[{"filter":"datum.star != ''"}],"mark":{"type":"text","fontSize":9,"baseline":"alphabetic","dy":2},"encoding":{"x":{"field":"cat","type":"nominal"},"xOffset":{"datum":"ctr"},"y":{"field":"y","type":"quantitative"},"text":{"field":"star"}}}
     ]}
   ]},
  {"width":7,"height":109,"view":{"stroke":null,"fill":"#ffffff"},"data":{"values":[]},"mark":"point","title":{"text":"(h)","anchor":"end","offset":7,"dx":1}},
  {"width":164,"height":109,
   "data":{"values":[
    {"cat":"MIEG3","grp":"ctr","v":32,"hi":33},{"cat":"MIEG3","grp":"PMA","v":198,"hi":211},
    {"cat":"wt CD40","grp":"ctr","v":32,"hi":36},{"cat":"wt CD40","grp":"PMA","v":216,"hi":222},
    {"cat":"ΔT 2,3","grp":"ctr","v":28,"hi":28},{"cat":"ΔT 2,3","grp":"PMA","v":242,"hi":244},
    {"cat":"ΔT 6","grp":"ctr","v":30,"hi":31},{"cat":"ΔT 6","grp":"PMA","v":222,"hi":240},
    {"cat":"ΔT 2,3,6","grp":"ctr","v":39,"hi":41},{"cat":"ΔT 2,3,6","grp":"PMA","v":211,"hi":216}]},
   "layer":[
    {"mark":{"type":"bar","stroke":"black","strokeWidth":1},"encoding":{
      "x":{"field":"cat","type":"nominal","sort":null,"scale":{"domain":["MIEG3","wt CD40","ΔT 2,3","ΔT 6","ΔT 2,3,6"],"paddingInner":0.1,"paddingOuter":0.12},"axis":{"title":null,"labelAngle":-90}},
      "xOffset":{"field":"grp","type":"nominal","scale":{"domain":["ctr","PMA"],"paddingInner":0.3,"paddingOuter":0.3}},
      "y":{"field":"v","type":"quantitative","scale":{"domain":[0,300],"nice":false},"axis":{"title":"Tissue factor (cMFI)","values":[0,100,200,300],"tickCount":50,"format":"d"}},
      "fill":{"field":"grp","type":"nominal","scale":{"domain":["ctr","PMA"],"range":["white","black"]},"legend":{"orient":"none","legendX":106,"legendY":-23,"title":null}}}},
    {"mark":{"type":"rule","color":"black"},"encoding":{"x":{"field":"cat","type":"nominal"},"xOffset":{"field":"grp","type":"nominal"},"y":{"field":"v","type":"quantitative"},"y2":{"field":"hi"}}},
    {"mark":{"type":"tick","color":"black","size":7,"thickness":1},"encoding":{"x":{"field":"cat","type":"nominal"},"xOffset":{"field":"grp","type":"nominal"},"y":{"field":"hi","type":"quantitative"}}}
   ]}
 ]}
]
}
